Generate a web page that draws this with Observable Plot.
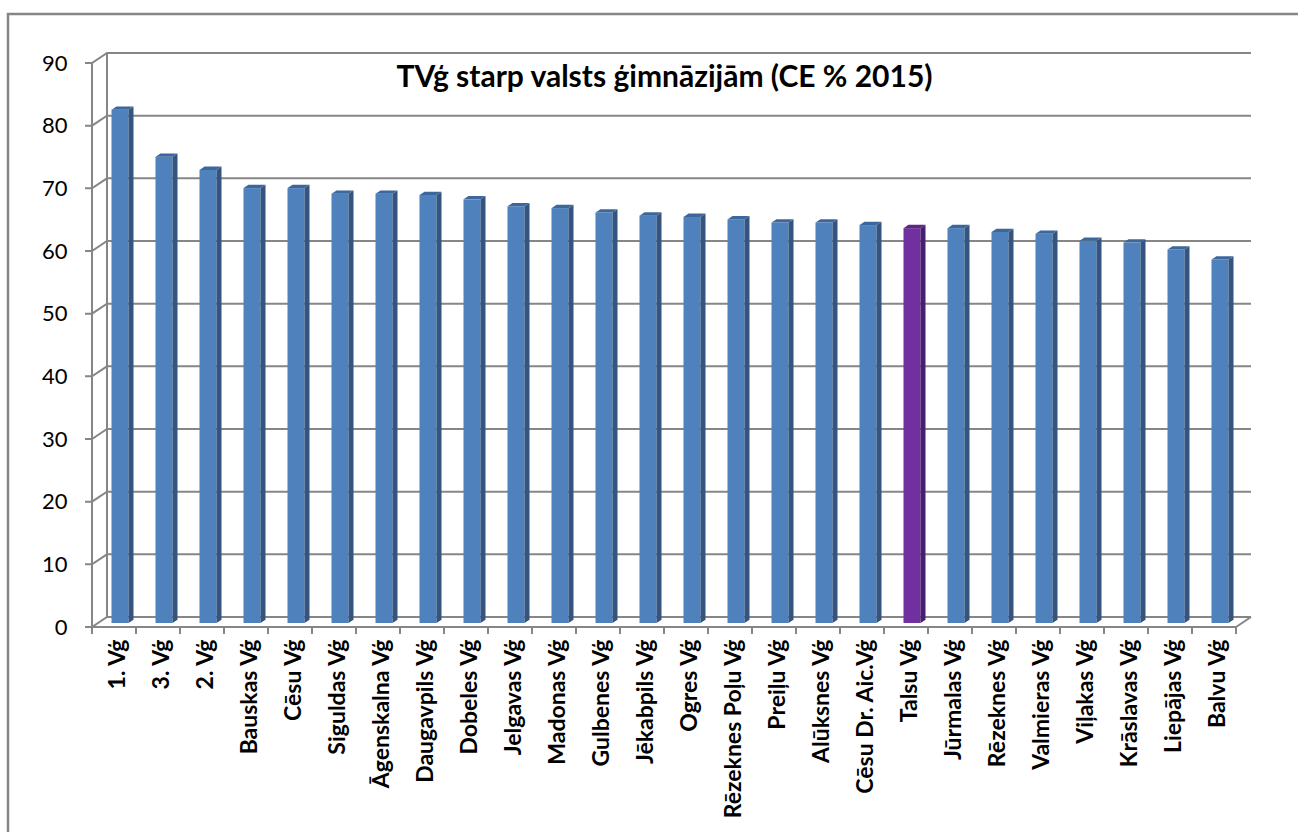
<!DOCTYPE html>
<html>
<head>
<meta charset="utf-8">
<script src="https://cdn.jsdelivr.net/npm/d3@7"></script>
<script src="https://cdn.jsdelivr.net/npm/@observablehq/plot@0.6"></script>
<style>
  body { margin: 0; background: #fff; }
  #chart svg { display: block; }
</style>
</head>
<body>
<div id="chart"></div>
<script>
// ---- data ----
const schools = [
  "1. Vģ", "3. Vģ", "2. Vģ", "Bauskas Vģ", "Cēsu Vģ", "Siguldas Vģ", "Āgenskalna Vģ",
  "Daugavpils Vģ", "Dobeles Vģ", "Jelgavas Vģ", "Madonas Vģ", "Gulbenes Vģ", "Jēkabpils Vģ",
  "Ogres Vģ", "Rēzeknes Poļu Vģ", "Preiļu Vģ", "Alūksnes Vģ", "Cēsu Dr. Aic.Vģ", "Talsu Vģ",
  "Jūrmalas Vģ", "Rēzeknes Vģ", "Valmieras Vģ", "Viļakas Vģ", "Krāslavas Vģ", "Liepājas Vģ", "Balvu Vģ"
];
const scores = [
  81.9, 74.4, 72.3, 69.4, 69.4, 68.5, 68.5,
  68.3, 67.6, 66.5, 66.2, 65.5, 65.0,
  64.8, 64.4, 63.9, 63.9, 63.5, 63.0,
  63.0, 62.4, 62.1, 61.0, 60.7, 59.6, 58.0
];
const highlighted = ["Talsu Vģ"];
const yTicks = [0, 10, 20, 30, 40, 50, 60, 70, 80, 90];
const title = "TVģ starp valsts ģimnāzijām (CE % 2015)";

const data = schools.map((school, i) => ({school, score: scores[i], hi: highlighted.includes(school)}));

// ---- style ----
const FONT = "Lato, 'Open Sans', sans-serif";
const GRID = "#868686";
const BACK = [15, -10];   // offset of back wall (px)
const BARPOS = 0.4;       // depth position of bar front face
const BARDEPTH = 1 / 3;   // bar depth as fraction of wall depth
const BARW = 17;
const COLORS = {
  front: "#4f81bd", side: "#34557f", top: "#3d679c",
  hfront: "#7030a0", hside: "#4a1e6e", htop: "#5a2785"
};

function walls(index, scales, values, dimensions) {
  const {x, y} = scales;
  const dom = x.domain();
  const bw = x.bandwidth ? x.bandwidth() : (x(dom[1]) - x(dom[0]));
  const xl = x(dom[0]), xr = x(dom[dom.length - 1]) + bw;
  const y0 = y(0);
  const g = d3.create("svg:g").attr("fill", "none").attr("stroke", GRID).attr("stroke-width", 2);
  // outer chart border (top + left)
  g.append("path").attr("d", `M8,${dimensions.height}V14H${dimensions.width}`).attr("stroke-width", 2.5);
  // back wall gridlines
  for (const t of yTicks) {
    const yy = y(t);
    g.append("path").attr("d", `M${xl - 7},${yy}H${xl}L${xl + BACK[0]},${yy + BACK[1]}H${xr + BACK[0]}`);
  }
  // back wall left edge & front axis line
  g.append("path").attr("d", `M${xl + BACK[0]},${y(90) + BACK[1]}V${y0 + BACK[1]}`);
  g.append("path").attr("d", `M${xl},${y(90)}V${y0}`);
  // floor front edge and right diagonal
  g.append("path").attr("d", `M${xl},${y0}H${xr}L${xr + BACK[0]},${y0 + BACK[1]}`);
  // category tick marks at band boundaries
  for (let i = 0; i <= dom.length; i++) {
    const xx = xl + i * bw;
    g.append("path").attr("d", `M${xx},${y0}V${y0 + 7}`);
  }
  return g.node();
}

function barSides(index, scales, values, dimensions) {
  const {x, y} = scales;
  const dom = x.domain();
  const bw = x.bandwidth ? x.bandwidth() : (x(dom[1]) - x(dom[0]));
  const ox = BACK[0] * BARPOS, oy = BACK[1] * BARPOS;
  const ddx = BACK[0] * BARDEPTH, ddy = BACK[1] * BARDEPTH;
  const g = d3.create("svg:g");
  for (const d of data) {
    const cx = x(d.school) + bw / 2 + ox;
    const l = cx - BARW / 2, r = cx + BARW / 2;
    const yt = y(d.score) + oy, yb = y(0) + oy;
    g.append("path")
      .attr("d", `M${r},${yb}V${yt}L${r + ddx},${yt + ddy}V${yb + ddy}Z`)
      .attr("fill", d.hi ? COLORS.hside : COLORS.side);
    g.append("path")
      .attr("d", `M${l},${yt}H${r}L${r + ddx},${yt + ddy}H${l + ddx}Z`)
      .attr("fill", d.hi ? COLORS.htop : COLORS.top);
  }
  return g.node();
}

const chart = Plot.plot({
  width: 1298,
  height: 832,
  marginLeft: 92,
  marginRight: 62,
  marginTop: 63,
  marginBottom: 205,
  style: {fontFamily: FONT, background: "#fff", overflow: "visible"},
  x: {domain: schools, type: "band", padding: 0, axis: null, label: null},
  y: {domain: [0, 90], axis: null, label: null},
  marks: [
    walls,
    Plot.barY(data, {
      x: "school", y: "score",
      fill: d => d.hi ? COLORS.hfront : COLORS.front,
      insetLeft: 13.5, insetRight: 13.5,
      dx: BACK[0] * BARPOS, dy: BACK[1] * BARPOS
    }),
    barSides,
    Plot.axisY(yTicks, {
      anchor: "left", tickSize: 0, tickPadding: 25, label: null,
      fontSize: 22, fontFamily: FONT, fill: "#000", tickFormat: d => String(d)
    }),
    Plot.axisX(schools, {
      anchor: "bottom", tickSize: 0, tickPadding: 12, tickRotate: -90, label: null,
      fontSize: 23, fontWeight: "bold", fontFamily: FONT, fill: "#000", dx: 3
    }),
    Plot.text([title], {
      frameAnchor: "top", dy: 14, lineAnchor: "middle", text: d => d,
      fontSize: 30, fontWeight: "bold", fontFamily: FONT, fill: "#000"
    })
  ]
});
document.getElementById("chart").append(chart);
</script>
</body>
</html>
